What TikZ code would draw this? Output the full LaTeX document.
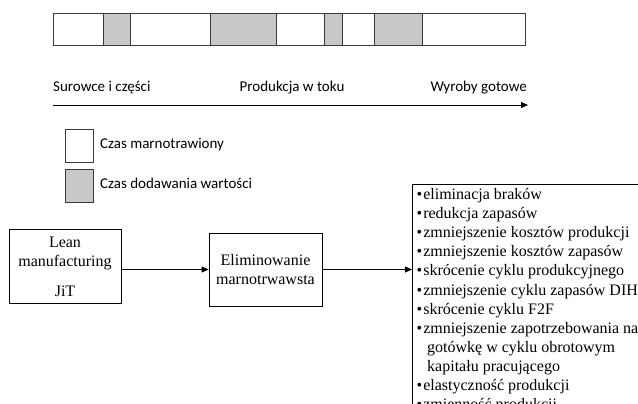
\documentclass[tikz,border=0pt]{standalone}
\usepackage{fontspec}
\setmainfont{Liberation Serif}
\newfontfamily\calib{Carlito}
\usetikzlibrary{arrows.meta, positioning}
\definecolor{valgray}{HTML}{C8C8C8}
\definecolor{edgegray}{HTML}{3A3A3A}
\tikzset{
  seg/.style={draw=edgegray, line width=1pt, minimum height=32pt, inner sep=0pt,
              anchor=north west},
  leg/.style={draw=edgegray, line width=0.9pt, minimum width=28pt, minimum height=33pt,
              inner sep=0pt, anchor=north west},
  lab/.style={font=\calib\fontsize{15}{17}\selectfont, inner sep=0pt},
  blk/.style={draw=black, line width=0.8pt, align=center, inner sep=0pt,
              font=\fontsize{16}{19}\selectfont},
  itm/.style={font=\fontsize{16}{19}\selectfont, inner sep=0pt, anchor=base west},
  flow/.style={-{Triangle[length=7pt,width=6pt]}, line width=0.9pt, draw=black},
}

\begin{document}
\begin{tikzpicture}[x=1pt, y=-1pt]
  \clip (0,0) rectangle (638,404);
  \fill[white] (0,0) rectangle (638,404);
  % time bar
  \foreach \x/\w/\c [count=\i] in {53/50/white, 103/27/valgray, 130/80/white, 210/66/valgray,
      276/48/white, 324/18/valgray, 342/32/white, 374/48/valgray, 422/103/white}{
    \node[seg, minimum width=\w pt, fill=\c] (s\i) at (\x,13) {};}
  % flow axis
  \node[lab, anchor=base west] (sur) at (53,91.5) {Surowce i części};
  \node[lab, anchor=base] (prod) at (292,91.5) {Produkcja w toku};
  \node[lab, anchor=base east] (wyr) at (527,91.5) {Wyroby gotowe};
  \coordinate (ax0) at (53,105);
  \coordinate (ax1) at (528,105);
  \draw[flow] (ax0) -- (ax1);
  % legend
  \node[leg, fill=white] (lw) at (65,129) {};
  \node[leg, fill=valgray] (lv) at (65,169) {};
  \node[lab, anchor=base west] (lwt) at (100,149) {Czas marnotrawiony};
  \node[lab, anchor=base west] (lvt) at (100,188) {Czas dodawania wartości};
  % lower chain
  \node[blk, minimum width=112pt, minimum height=74pt] (lean) at (65,266.5)
       {Lean\\manufacturing\\[11pt]JiT};
  \node[blk, minimum width=113pt, minimum height=73pt] (elim) at (265.5,269.5)
       {Eliminowanie\\marnotrwawsta};
  \node[draw=black, line width=0.8pt, minimum width=260pt, minimum height=250pt,
        inner sep=0pt, anchor=north west] (list) at (412,184) {};
  \draw[flow] (lean.east |- elim.west) -- (elim.west);
  \draw[flow] (elim.east) -- (elim.east -| list.west);
  % list of effects
  \foreach \t/\b [count=\i] in {eliminacja braków/1, redukcja zapasów/1,
      zmniejszenie kosztów produkcji/1, zmniejszenie kosztów zapasów/1,
      skrócenie cyklu produkcyjnego/1, zmniejszenie cyklu zapasów DIH/1,
      skrócenie cyklu F2F/1, zmniejszenie zapotrzebowania na/1,
      gotówkę w cyklu obrotowym/0, kapitału pracującego/0,
      elastyczność produkcji/1, zmienność produkcji/1}{
    \ifnum\b=1
      \node[itm] (e\i) at (416.5,{199.5+19.1*(\i-1)}) {\textbullet\hspace{1pt}\t};
    \else
      \node[itm] (e\i) at (427,{199.5+19.1*(\i-1)}) {\t};
    \fi}
\end{tikzpicture}
\end{document}
